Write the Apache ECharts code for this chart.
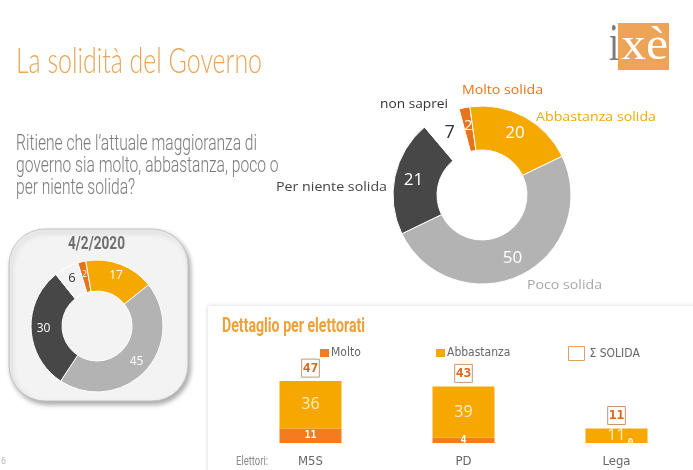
<!DOCTYPE html>
<html><head><meta charset="utf-8">
<script src="https://cdn.jsdelivr.net/npm/echarts@6/dist/echarts.min.js"></script>
<style>html,body{margin:0;padding:0;background:#fff}#c{width:693px;height:470px}</style>
</head><body><div id="c"></div>
<script>
// ---- data ----
const sliceNames = ['Molto solida', 'Abbastanza solida', 'Poco solida', 'Per niente solida', 'non saprei'];
const currentValues = [2, 20, 50, 21, 7];
const previousValues = [2, 17, 45, 30, 6];
const previousDate = '4/2/2020';
const electorates = ['M5S', 'PD', 'Lega'];
const moltoValues = [11, 4, 0];
const abbastanzaValues = [36, 39, 11];
const solidaTotals = [47, 43, 11];
const seriesNames = ['Molto', 'Abbastanza', 'Σ SOLIDA'];

// ---- styles ----
const sliceColors = ['#e8731c', '#f5a800', '#b3b3b3', '#474747', 'rgba(0,0,0,0)'];
const NARROW = "'DejaVu Sans Condensed','Liberation Sans Narrow',sans-serif";
const ctx = document.createElement('canvas').getContext('2d');
function fit(text, x, y, targetW, size, weight, family, color, z) {
  ctx.font = weight + ' ' + size + 'px ' + family;
  const w = ctx.measureText(text).width;
  return { type: 'text', x: x, y: y, scaleX: targetW / w, z: z || 10,
    style: { text: text, fontSize: size, fontWeight: weight, fontFamily: family, fill: color, verticalAlign: 'middle', align: 'left' } };
}

const qFamily = "Roboto, sans-serif";
ctx.font = '300 22px ' + qFamily;
const qScale = 241 / ctx.measureText("Ritiene che l’attuale maggioranza di").width;
function qline(t, y) {
  return { type: 'text', x: 16, y: y, scaleX: qScale, z: 10,
    style: { text: t, fontSize: 22, fontWeight: 300, fontFamily: qFamily, fill: '#7a7a7a', verticalAlign: 'middle' } };
}

function pieData(vals, big) {
  return vals.map((v, i) => {
    const d = { value: v, name: sliceNames[i], itemStyle: { color: sliceColors[i] } };
    if (i === 4) d.label = { color: '#333', fontSize: big ? 18 : 13 };
    if (i === 0) d.label = { fontSize: big ? 14 : 9 };
    return d;
  });
}

const legendText = { fontFamily: NARROW, fontSize: 12, color: '#666' };

const chart = echarts.init(document.getElementById('c'), null, { renderer: 'canvas' });
chart.setOption({
  animation: false,
  graphic: [
    { type: 'rect', z: 0, shape: { x: 208, y: 306, width: 520, height: 200 },
      style: { fill: '#fff', shadowBlur: 5, shadowColor: 'rgba(0,0,0,0.15)' } },
    { type: 'rect', z: 0, shape: { x: 9, y: 229, width: 179, height: 172, r: 36 },
      style: { fill: '#f3f3f3', stroke: '#c4c4c4', lineWidth: 1, shadowBlur: 5, shadowOffsetX: 2, shadowOffsetY: 3, shadowColor: 'rgba(0,0,0,0.35)' } },
    // logo
    { type: 'rect', z: 1, shape: { x: 618, y: 23, width: 51, height: 47 }, style: { fill: '#eda457' } },
    fit('i', 609, 46, 10, 52, 'normal', "'Liberation Serif',serif", '#7b7b7b'),
    fit('xè', 621, 47, 47, 46, 'normal', "'Liberation Serif',serif", '#ffffff'),
    // titles
    fit('La solidità del Governo', 16, 61, 246, 36, 300, "Lato, sans-serif", '#e9a558'),
    qline("Ritiene che l’attuale maggioranza di", 144),
    qline('governo sia molto, abbastanza, poco o', 166),
    qline('per niente solida?', 188),
    fit(previousDate, 68, 244, 57, 18, 'bold', "Roboto, sans-serif", '#6f6f6f'),
    fit('Dettaglio per elettorati', 222, 327, 143, 20, 'bold', "Roboto, sans-serif", '#eda136'),
    fit('Elettori:', 236, 462, 32, 13, 'normal', "Roboto, sans-serif", '#8a8a8a'),
    fit('6', 1, 462, 5, 9, 'normal', "Roboto, sans-serif", '#b8b8b8'),
    // donut category names
    fit(sliceNames[0], 462, 90, 81, 13, 'normal', "'Open Sans',sans-serif", '#e8731c'),
    fit(sliceNames[1], 536, 117, 120, 13, 'normal', "'Open Sans',sans-serif", '#f5a800'),
    fit(sliceNames[4], 380, 104, 68, 13, 'normal', "'Open Sans',sans-serif", '#333333'),
    fit(sliceNames[3], 276, 187, 111, 13, 'normal', "'Open Sans',sans-serif", '#444444'),
    fit(sliceNames[2], 527, 285, 75, 13, 'normal', "'Open Sans',sans-serif", '#a8a8a8')
  ],
  legend: [
    { data: [seriesNames[0]], left: 315, top: 342, icon: 'rect', itemWidth: 9, itemHeight: 8, selectedMode: false,
      textStyle: Object.assign({ padding: [0, 0, 0, -3] }, legendText) },
    { data: [seriesNames[1]], left: 431, top: 342, icon: 'rect', itemWidth: 9, itemHeight: 8, selectedMode: false,
      textStyle: Object.assign({ padding: [0, 0, 0, -3] }, legendText) },
    { data: [{ name: seriesNames[2], itemStyle: { color: '#fff', borderColor: '#d9a070', borderWidth: 1 } }],
      left: 563, top: 341, icon: 'rect', itemWidth: 16, itemHeight: 14, selectedMode: false,
      textStyle: legendText }
  ],
  grid: { left: 234, width: 468, top: 364, height: 79 },
  xAxis: { type: 'category', data: electorates, axisLine: { show: false }, axisTick: { show: false },
    axisLabel: { margin: 12, color: '#666', fontSize: 13, fontFamily: NARROW } },
  yAxis: { type: 'value', min: 0, max: 60, show: false, splitLine: { show: false } },
  series: [
    { type: 'pie', silent: true, center: [482, 195], radius: [45, 89], startAngle: 105, clockwise: true,
      avoidLabelOverlap: false, itemStyle: { borderColor: '#fff', borderWidth: 1 },
      label: { show: true, position: 'inside', color: '#fff', fontSize: 17, fontFamily: "'Open Sans',sans-serif", formatter: '{c}' },
      labelLine: { show: false }, emphasis: { disabled: true },
      data: pieData(currentValues, true) },
    { type: 'pie', silent: true, center: [97, 326], radius: [35, 66], startAngle: 107, clockwise: true,
      avoidLabelOverlap: false, itemStyle: { borderColor: '#fff', borderWidth: 1 },
      label: { show: true, position: 'inside', color: '#fff', fontSize: 12, fontFamily: "'Open Sans',sans-serif", formatter: '{c}' },
      labelLine: { show: false }, emphasis: { disabled: true },
      data: pieData(previousValues, false) },
    { name: seriesNames[0], type: 'bar', stack: 's', barWidth: 62, silent: true,
      itemStyle: { color: '#f47c20' },
      label: { show: true, position: 'inside', color: '#fff', fontSize: 10, fontWeight: 'bold', fontFamily: "'DejaVu Sans Mono',monospace" },
      data: moltoValues.map(v => v === 0 ? { value: v, label: { offset: [14, 0], color: '#fff3d6' } } : v) },
    { name: seriesNames[1], type: 'bar', stack: 's', barWidth: 62, silent: true,
      itemStyle: { color: '#f7a800' },
      label: { show: true, position: 'inside', color: '#fdeec0', fontSize: 16, fontFamily: "'Open Sans',sans-serif" },
      data: abbastanzaValues },
    { name: seriesNames[2], type: 'bar', barWidth: 62, barGap: '-100%', silent: true,
      itemStyle: { color: 'rgba(0,0,0,0)' },
      label: { show: true, position: 'top', distance: 4, color: '#d9661f', fontSize: 13, fontWeight: 'bold',
        fontFamily: "'DejaVu Sans Mono',monospace", borderColor: '#c99572', borderWidth: 1, padding: [3, 1, 2, 1] },
      data: solidaTotals }
  ]
});
</script></body></html>
